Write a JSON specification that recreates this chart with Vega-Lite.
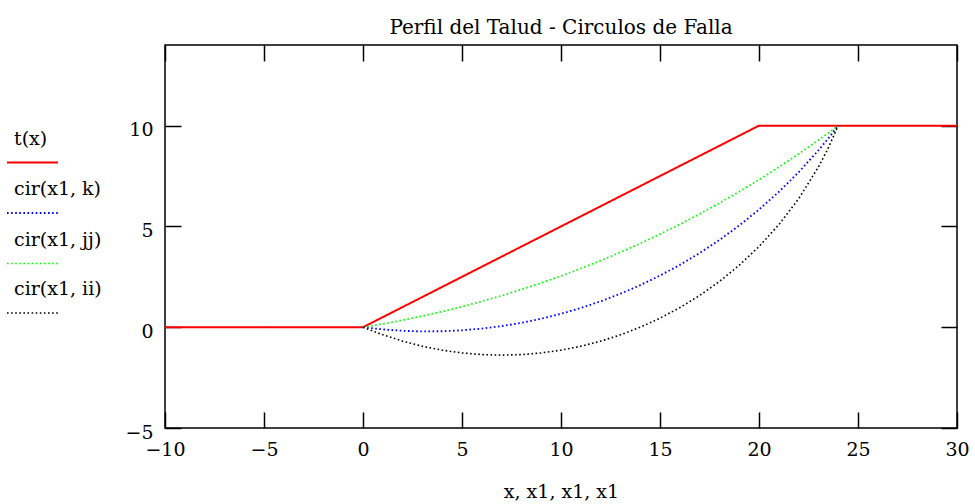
{
  "$schema": "https://vega.github.io/schema/vega-lite/v6.json",
  "width": 792,
  "height": 383,
  "autosize": {"type": "none"},
  "padding": {"left": 165, "top": 45, "right": 18, "bottom": 76},
  "background": "white",
  "title": {"text": "Perfil del Talud - Circulos de Falla", "font": "DejaVu Serif", "fontSize": 20, "fontWeight": "normal", "color": "black", "anchor": "middle", "offset": 6},
  "config": {
    "view": {"stroke": "black", "strokeWidth": 1.5},
    "axis": {"domain": false, "grid": false, "tickColor": "black", "tickWidth": 1.5, "tickSize": -16, "labelFont": "DejaVu Serif", "labelFontSize": 19, "labelColor": "black", "labelFlush": false, "labelOverlap": false, "titleFont": "DejaVu Serif", "titleFontSize": 19, "titleFontWeight": "normal", "titleColor": "black"}
  },
  "data": {"values": [
    {"x": -10, "y": 0, "s": "t(x)"},
    {"x": 0, "y": 0, "s": "t(x)"},
    {"x": 20, "y": 10, "s": "t(x)"},
    {"x": 30, "y": 10, "s": "t(x)"},
    {"x": 0, "y": 0, "s": "cir(x1, k)"},
    {"x": 1, "y": -0.108, "s": "cir(x1, k)"},
    {"x": 2, "y": -0.177, "s": "cir(x1, k)"},
    {"x": 3, "y": -0.208, "s": "cir(x1, k)"},
    {"x": 4, "y": -0.2, "s": "cir(x1, k)"},
    {"x": 5, "y": -0.154, "s": "cir(x1, k)"},
    {"x": 6, "y": -0.069, "s": "cir(x1, k)"},
    {"x": 7, "y": 0.054, "s": "cir(x1, k)"},
    {"x": 8, "y": 0.217, "s": "cir(x1, k)"},
    {"x": 9, "y": 0.421, "s": "cir(x1, k)"},
    {"x": 10, "y": 0.666, "s": "cir(x1, k)"},
    {"x": 11, "y": 0.953, "s": "cir(x1, k)"},
    {"x": 12, "y": 1.284, "s": "cir(x1, k)"},
    {"x": 13, "y": 1.661, "s": "cir(x1, k)"},
    {"x": 14, "y": 2.086, "s": "cir(x1, k)"},
    {"x": 15, "y": 2.561, "s": "cir(x1, k)"},
    {"x": 16, "y": 3.09, "s": "cir(x1, k)"},
    {"x": 17, "y": 3.677, "s": "cir(x1, k)"},
    {"x": 18, "y": 4.326, "s": "cir(x1, k)"},
    {"x": 19, "y": 5.043, "s": "cir(x1, k)"},
    {"x": 20, "y": 5.836, "s": "cir(x1, k)"},
    {"x": 21, "y": 6.713, "s": "cir(x1, k)"},
    {"x": 22, "y": 7.687, "s": "cir(x1, k)"},
    {"x": 23, "y": 8.775, "s": "cir(x1, k)"},
    {"x": 23.5, "y": 9.369, "s": "cir(x1, k)"},
    {"x": 24, "y": 10, "s": "cir(x1, k)"},
    {"x": 0, "y": 0, "s": "cir(x1, jj)"},
    {"x": 1, "y": 0.165, "s": "cir(x1, jj)"},
    {"x": 2, "y": 0.35, "s": "cir(x1, jj)"},
    {"x": 3, "y": 0.553, "s": "cir(x1, jj)"},
    {"x": 4, "y": 0.776, "s": "cir(x1, jj)"},
    {"x": 5, "y": 1.02, "s": "cir(x1, jj)"},
    {"x": 6, "y": 1.283, "s": "cir(x1, jj)"},
    {"x": 7, "y": 1.566, "s": "cir(x1, jj)"},
    {"x": 8, "y": 1.871, "s": "cir(x1, jj)"},
    {"x": 9, "y": 2.196, "s": "cir(x1, jj)"},
    {"x": 10, "y": 2.543, "s": "cir(x1, jj)"},
    {"x": 11, "y": 2.912, "s": "cir(x1, jj)"},
    {"x": 12, "y": 3.304, "s": "cir(x1, jj)"},
    {"x": 13, "y": 3.718, "s": "cir(x1, jj)"},
    {"x": 14, "y": 4.156, "s": "cir(x1, jj)"},
    {"x": 15, "y": 4.618, "s": "cir(x1, jj)"},
    {"x": 16, "y": 5.104, "s": "cir(x1, jj)"},
    {"x": 17, "y": 5.617, "s": "cir(x1, jj)"},
    {"x": 18, "y": 6.155, "s": "cir(x1, jj)"},
    {"x": 19, "y": 6.722, "s": "cir(x1, jj)"},
    {"x": 20, "y": 7.316, "s": "cir(x1, jj)"},
    {"x": 21, "y": 7.94, "s": "cir(x1, jj)"},
    {"x": 22, "y": 8.594, "s": "cir(x1, jj)"},
    {"x": 23, "y": 9.28, "s": "cir(x1, jj)"},
    {"x": 23.5, "y": 9.636, "s": "cir(x1, jj)"},
    {"x": 24, "y": 10, "s": "cir(x1, jj)"},
    {"x": 0, "y": 0, "s": "cir(x1, ii)"},
    {"x": 1, "y": -0.378, "s": "cir(x1, ii)"},
    {"x": 2, "y": -0.692, "s": "cir(x1, ii)"},
    {"x": 3, "y": -0.944, "s": "cir(x1, ii)"},
    {"x": 4, "y": -1.138, "s": "cir(x1, ii)"},
    {"x": 5, "y": -1.276, "s": "cir(x1, ii)"},
    {"x": 6, "y": -1.358, "s": "cir(x1, ii)"},
    {"x": 7, "y": -1.385, "s": "cir(x1, ii)"},
    {"x": 8, "y": -1.358, "s": "cir(x1, ii)"},
    {"x": 9, "y": -1.276, "s": "cir(x1, ii)"},
    {"x": 10, "y": -1.138, "s": "cir(x1, ii)"},
    {"x": 11, "y": -0.944, "s": "cir(x1, ii)"},
    {"x": 12, "y": -0.692, "s": "cir(x1, ii)"},
    {"x": 13, "y": -0.378, "s": "cir(x1, ii)"},
    {"x": 14, "y": 0, "s": "cir(x1, ii)"},
    {"x": 15, "y": 0.447, "s": "cir(x1, ii)"},
    {"x": 16, "y": 0.969, "s": "cir(x1, ii)"},
    {"x": 17, "y": 1.573, "s": "cir(x1, ii)"},
    {"x": 18, "y": 2.269, "s": "cir(x1, ii)"},
    {"x": 19, "y": 3.072, "s": "cir(x1, ii)"},
    {"x": 20, "y": 4.0, "s": "cir(x1, ii)"},
    {"x": 21, "y": 5.084, "s": "cir(x1, ii)"},
    {"x": 22, "y": 6.37, "s": "cir(x1, ii)"},
    {"x": 23, "y": 7.945, "s": "cir(x1, ii)"},
    {"x": 23.5, "y": 8.891, "s": "cir(x1, ii)"},
    {"x": 24, "y": 10, "s": "cir(x1, ii)"}
  ]},
  "layer": [
    {
      "mark": {"type": "line", "strokeCap": "butt", "clip": true},
      "encoding": {
        "x": {"field": "x", "type": "quantitative", "scale": {"domain": [-10, 30], "nice": false, "zero": false},
              "axis": {"orient": "bottom", "values": [-10, -5, 0, 5, 10, 15, 20, 25, 30], "labelPadding": 28, "title": "x, x1, x1, x1", "titlePadding": 23}},
        "y": {"field": "y", "type": "quantitative", "scale": {"domain": [-5, 14], "nice": false, "zero": false},
              "axis": {"orient": "left", "values": [-5, 0, 5, 10], "labelPadding": 28, "labelOffset": 4, "title": null}},
        "color": {"field": "s", "type": "nominal",
                  "scale": {"domain": ["t(x)", "cir(x1, k)", "cir(x1, jj)", "cir(x1, ii)"], "range": ["#ff0000", "#0000ff", "#00ff00", "#000000"]},
                  "legend": {"orient": "none", "legendX": -159, "legendY": 91, "title": null, "symbolType": "stroke", "symbolSize": 2601, "symbolStrokeWidth": 1.6, "labelFont": "DejaVu Serif", "labelFontSize": 19, "labelColor": "black", "labelOffset": -45, "labelBaseline": "middle", "labelLimit": 200, "rowPadding": 12.5,
                             "encode": {"labels": {"update": {"dy": {"value": -24}}}}}},
        "strokeDash": {"field": "s", "type": "nominal",
                  "scale": {"domain": ["t(x)", "cir(x1, k)", "cir(x1, jj)", "cir(x1, ii)"], "range": [[1, 0], [1.6, 2.5], [1.6, 2.5], [1.6, 2.5]]},
                  "legend": {"orient": "none", "legendX": -159, "legendY": 91, "title": null, "symbolType": "stroke", "symbolSize": 2601, "symbolStrokeWidth": 1.6, "labelFont": "DejaVu Serif", "labelFontSize": 19, "labelColor": "black", "labelOffset": -45, "labelBaseline": "middle", "labelLimit": 200, "rowPadding": 12.5,
                             "encode": {"labels": {"update": {"dy": {"value": -24}}}}}},
        "strokeWidth": {"field": "s", "type": "nominal",
                  "scale": {"domain": ["t(x)", "cir(x1, k)", "cir(x1, jj)", "cir(x1, ii)"], "range": [2, 1.6, 1.6, 1.6]}, "legend": null}
      }
    },
    {
      "mark": {"type": "line", "strokeOpacity": 0},
      "encoding": {
        "x": {"field": "x", "type": "quantitative", "axis": {"orient": "top", "values": [-10, -5, 0, 5, 10, 15, 20, 25, 30], "labels": false, "title": null}},
        "y": {"field": "y", "type": "quantitative", "axis": {"orient": "right", "values": [-5, 0, 5, 10], "labels": false, "title": null}},
        "detail": {"field": "s", "type": "nominal"}
      }
    }
  ],
  "resolve": {"axis": {"x": "independent", "y": "independent"}}
}
